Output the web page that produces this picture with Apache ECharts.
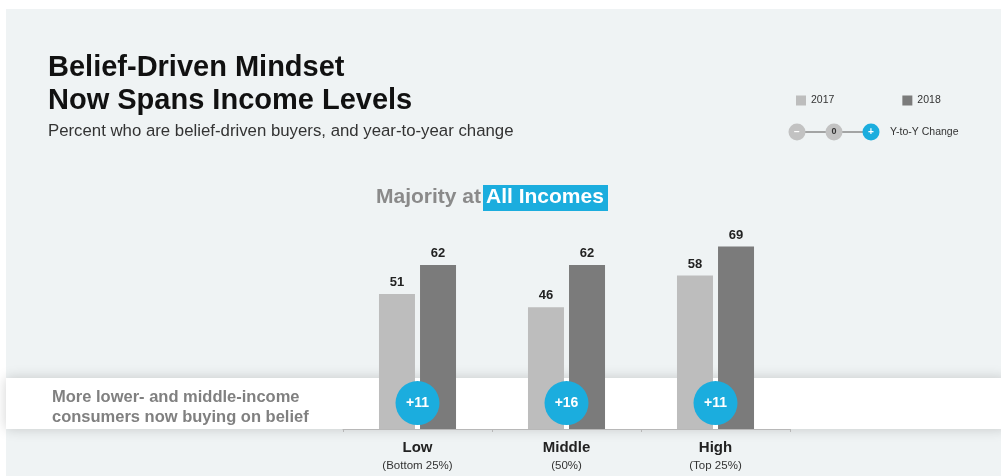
<!DOCTYPE html>
<html><head><meta charset="utf-8">
<script src="https://cdn.jsdelivr.net/npm/echarts@6/dist/echarts.min.js"></script>
<style>html,body{margin:0;padding:0;background:#fff}#c{width:1001px;height:476px}</style>
</head><body><div id="c"></div>
<script>
const categories = ['Low', 'Middle', 'High'];
const subLabels = ['(Bottom 25%)', '(50%)', '(Top 25%)'];
const seriesNames = ['2017', '2018'];
const values2017 = [51, 46, 58];
const values2018 = [62, 62, 69];
const changes = values2018.map((v, i) => v - values2017[i]);

const FONT = '"Liberation Sans", Arial, Helvetica, sans-serif';
const BLUE = '#1badde';
const C17 = '#bdbdbd';
const C18 = '#7b7b7b';
const BADGE_Y = 9.8; // vertical placement of change badges in axis units

const chart = echarts.init(document.getElementById('c'), null, {renderer: 'canvas'});
chart.setOption({
  backgroundColor: '#ffffff',
  animation: false,
  textStyle: {fontFamily: FONT},
  legend: {
    data: seriesNames,
    left: 791, top: 90,
    icon: 'rect', itemWidth: 10, itemHeight: 10, itemGap: 68,
    textStyle: {fontSize: 10.5, color: '#333', fontFamily: FONT},
    selectedMode: false
  },
  grid: {left: 343, right: 211, top: 164.5, bottom: 47},
  xAxis: {
    type: 'category', data: categories,
    axisLine: {lineStyle: {color: '#b8b8b8', width: 1}},
    axisTick: {show: true, length: 3, lineStyle: {color: '#b8b8b8'}},
    axisLabel: {
      margin: 10,
      formatter: (v, i) => '{a|' + v + '}\n{b|' + subLabels[i] + '}',
      rich: {
        a: {fontSize: 15, fontWeight: 'bold', color: '#222', fontFamily: FONT, lineHeight: 18},
        b: {fontSize: 11.5, color: '#333', fontFamily: FONT, lineHeight: 17}
      }
    }
  },
  yAxis: {type: 'value', min: 0, max: 100, show: false, splitLine: {show: false}},
  series: [
    {name: seriesNames[0], type: 'bar', data: values2017, barWidth: 36, barGap: '14%',
     itemStyle: {color: C17}, z: 2,
     label: {show: true, position: 'top', distance: 5, fontSize: 13, fontWeight: 'bold', color: '#222', fontFamily: FONT}},
    {name: seriesNames[1], type: 'bar', data: values2018, barWidth: 36,
     itemStyle: {color: C18}, z: 2,
     label: {show: true, position: 'top', distance: 5, fontSize: 13, fontWeight: 'bold', color: '#222', fontFamily: FONT}},
    {type: 'scatter', data: categories.map((c, i) => [c, BADGE_Y]), symbolSize: 44, z: 5,
     itemStyle: {color: BLUE, opacity: 1},
     label: {show: true, position: 'inside', formatter: p => '+' + changes[p.dataIndex],
             fontSize: 14, fontWeight: 'bold', color: '#fff', fontFamily: FONT},
     emphasis: {disabled: true}}
  ],
  graphic: [
    {type: 'rect', z: -20, silent: true, shape: {x: 6, y: 9, width: 995, height: 467}, style: {fill: '#eff3f4'}},
    {type: 'rect', z: -10, silent: true, shape: {x: 6, y: 378, width: 1000, height: 51},
     style: {fill: '#ffffff', shadowBlur: 12, shadowColor: 'rgba(0,0,0,0.18)', shadowOffsetY: 0}},
    {type: 'text', left: 48, top: 53, silent: true,
     style: {text: 'Belief-Driven Mindset', font: 'bold 29px ' + FONT, fill: '#111'}},
    {type: 'text', left: 48, top: 86, silent: true,
     style: {text: 'Now Spans Income Levels', font: 'bold 29px ' + FONT, fill: '#111'}},
    {type: 'text', left: 48, top: 123, silent: true,
     style: {text: 'Percent who are belief-driven buyers, and year-to-year change', font: '16.8px ' + FONT, fill: '#333'}},
    {type: 'text', left: 376, top: 187, silent: true,
     style: {text: 'Majority at', font: 'bold 21px ' + FONT, fill: '#8a8a8a'}},
    {type: 'rect', silent: true, shape: {x: 483, y: 185, width: 125, height: 26}, style: {fill: BLUE}},
    {type: 'text', left: 486, top: 187, silent: true,
     style: {text: 'All Incomes', font: 'bold 21px ' + FONT, fill: '#fff'}},
    {type: 'text', left: 52, top: 387, silent: true,
     style: {text: 'More lower- and middle-income\nconsumers now buying on belief', font: 'bold 16.5px ' + FONT, fill: '#808080', lineHeight: 20}},
    {type: 'line', silent: true, shape: {x1: 797, y1: 132, x2: 871, y2: 132}, style: {stroke: '#8a8a8a', lineWidth: 1.5}},
    {type: 'circle', silent: true, shape: {cx: 797, cy: 132, r: 8.5}, style: {fill: '#c2c2c2'}},
    {type: 'text', silent: true, x: 797, y: 132, style: {text: '−', font: 'bold 10px ' + FONT, fill: '#fff', align: 'center', verticalAlign: 'middle'}},
    {type: 'circle', silent: true, shape: {cx: 834, cy: 132, r: 8.5}, style: {fill: '#c2c2c2'}},
    {type: 'text', silent: true, x: 834, y: 132, style: {text: '0', font: 'bold 9px ' + FONT, fill: '#333', align: 'center', verticalAlign: 'middle'}},
    {type: 'circle', silent: true, shape: {cx: 871, cy: 132, r: 8.5}, style: {fill: BLUE}},
    {type: 'text', silent: true, x: 871, y: 132, style: {text: '+', font: 'bold 10px ' + FONT, fill: '#fff', align: 'center', verticalAlign: 'middle'}},
    {type: 'text', silent: true, left: 890, top: 127, style: {text: 'Y-to-Y Change', font: '10.5px ' + FONT, fill: '#333'}}
  ]
});
</script></body></html>
